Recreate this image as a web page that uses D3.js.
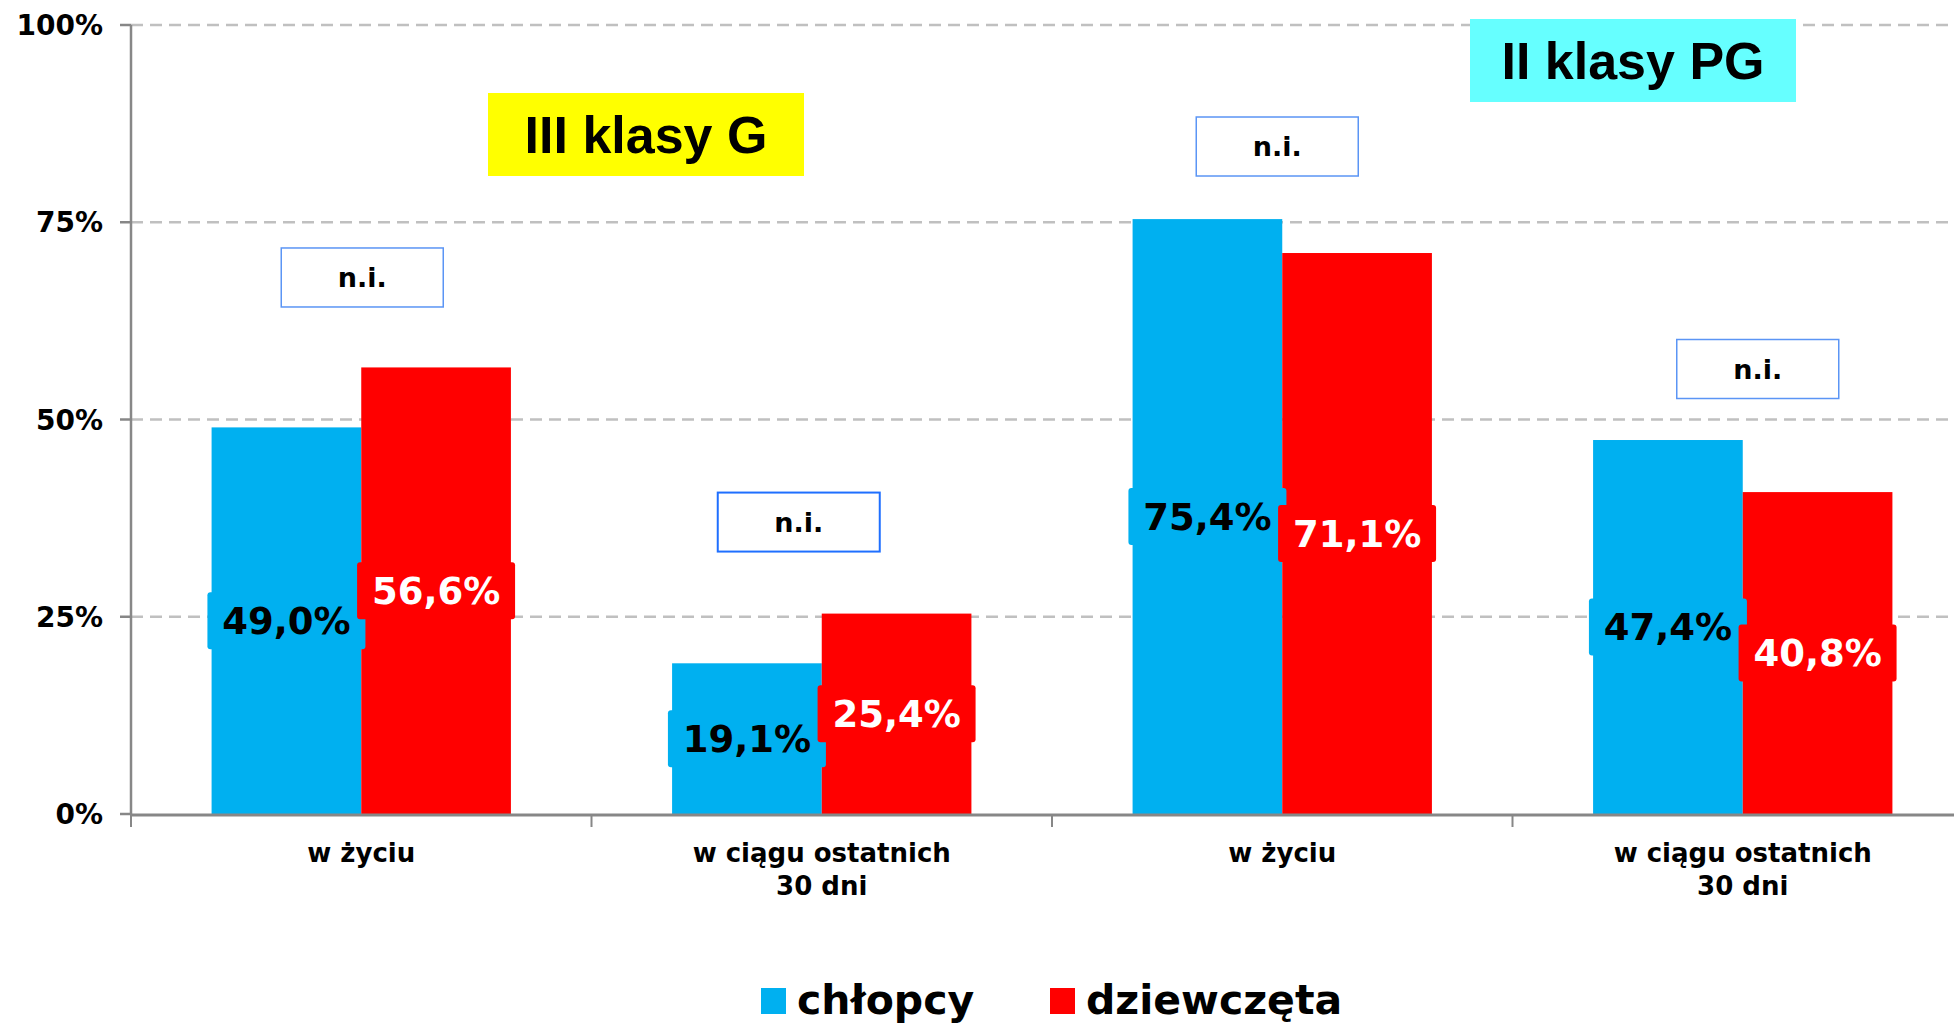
<!DOCTYPE html>
<html lang="pl">
<head>
    <meta charset="UTF-8">
    <title>Chłopcy i dziewczęta</title>
    <script src="https://d3js.org/d3.v7.min.js"></script>
    <style>
        body { margin: 0; background: #fff; }
        text { font-family: "DejaVu Sans", Verdana, sans-serif; font-weight: bold; }
    </style>
</head>
<body>
    <svg width="1954" height="1026"></svg>
    <script>
        // data
        const categories = [["w życiu"], ["w ciągu ostatnich", "30 dni"], ["w życiu"], ["w ciągu ostatnich", "30 dni"]];
        const chlopcy = [49.0, 19.1, 75.4, 47.4];
        const dziewczeta = [56.6, 25.4, 71.1, 40.8];
        const yTicks = [0, 25, 50, 75, 100];
        const niLevels = [68, 37, 84.6, 56.4];
        const seriesNames = ["chłopcy", "dziewczęta"];
        const colors = ["#00b0f0", "#ff0000"];

        const svg = d3.select("svg");
        const plotLeft = 131, plotRight = 1973, plotTop = 25, plotBottom = 814;

        const x = d3.scaleBand()
            .domain(d3.range(categories.length))
            .range([plotLeft, plotRight])
            .paddingInner(0.35)
            .paddingOuter(0.175);
        const xs = d3.scaleBand()
            .domain([0, 1])
            .range([0, x.bandwidth()]);
        const y = d3.scaleLinear().domain([0, 100]).range([plotBottom, plotTop]);

        // gridlines
        svg.selectAll(".grid")
            .data(yTicks.filter(d => d > 0))
            .enter().append("line")
            .attr("x1", plotLeft).attr("x2", 1954)
            .attr("y1", d => y(d)).attr("y2", d => y(d))
            .attr("stroke", "#c0c0c0")
            .attr("stroke-width", 2.5)
            .attr("stroke-dasharray", "12,7");

        // y axis
        svg.append("line")
            .attr("x1", plotLeft).attr("x2", plotLeft)
            .attr("y1", plotTop).attr("y2", plotBottom)
            .attr("stroke", "#878787").attr("stroke-width", 2.5);
        svg.selectAll(".ytick")
            .data(yTicks)
            .enter().append("line")
            .attr("x1", plotLeft - 11).attr("x2", plotLeft)
            .attr("y1", d => y(d)).attr("y2", d => y(d))
            .attr("stroke", "#878787").attr("stroke-width", 2.5);
        svg.selectAll(".ylab")
            .data(yTicks)
            .enter().append("text")
            .attr("x", 103)
            .attr("y", d => y(d))
            .attr("dy", "0.36em")
            .attr("text-anchor", "end")
            .attr("font-size", 28)
            .text(d => d + "%");

        // bars
        const series = [chlopcy, dziewczeta];
        series.forEach((vals, s) => {
            svg.selectAll(".bar" + s)
                .data(vals)
                .enter().append("rect")
                .attr("x", (d, i) => x(i) + xs(s))
                .attr("y", d => y(d))
                .attr("width", xs.bandwidth())
                .attr("height", d => plotBottom - y(d))
                .attr("fill", colors[s]);
        });

        // x axis
        svg.append("line")
            .attr("x1", plotLeft).attr("x2", 1954)
            .attr("y1", plotBottom + 1).attr("y2", plotBottom + 1)
            .attr("stroke", "#878787").attr("stroke-width", 3);
        const step = x.step();
        svg.selectAll(".xtick")
            .data(d3.range(categories.length + 1))
            .enter().append("line")
            .attr("x1", i => plotLeft + i * step).attr("x2", i => plotLeft + i * step)
            .attr("y1", plotBottom).attr("y2", plotBottom + 13)
            .attr("stroke", "#878787").attr("stroke-width", 2);

        const xl = svg.selectAll(".xlab")
            .data(categories)
            .enter().append("text")
            .attr("x", (d, i) => x(i) + x.bandwidth() / 2)
            .attr("y", 862)
            .attr("text-anchor", "middle")
            .attr("font-size", 26);
        xl.selectAll("tspan")
            .data(d => d)
            .enter().append("tspan")
            .attr("x", function () { return this.parentNode.getAttribute("x"); })
            .attr("dy", (d, j) => j === 0 ? 0 : 33)
            .text(d => d);

        // value labels
        const fmt = v => v.toFixed(1).replace(".", ",") + "%";
        series.forEach((vals, s) => {
            const g = svg.selectAll(".lab" + s)
                .data(vals)
                .enter().append("g")
                .attr("transform", (d, i) =>
                    `translate(${x(i) + xs(s) + xs.bandwidth() / 2},${(y(d) + plotBottom) / 2})`);
            g.append("rect")
                .attr("x", -79).attr("y", -28.5)
                .attr("width", 158).attr("height", 57)
                .attr("rx", 3)
                .attr("fill", colors[s]);
            g.append("text")
                .attr("text-anchor", "middle")
                .attr("dy", "0.36em")
                .attr("font-size", 37)
                .attr("fill", s === 0 ? "#000" : "#fff")
                .text(d => fmt(d));
        });

        // n.i. boxes
        const niShift = [1, -23, -5, 15];
        const ni = svg.selectAll(".ni")
            .data(niLevels)
            .enter().append("g")
            .attr("transform", (d, i) => `translate(${x(i) + x.bandwidth() / 2 + niShift[i]},${y(d)})`);
        ni.append("rect")
            .attr("x", -81).attr("y", -29.5)
            .attr("width", 162).attr("height", 59)
            .attr("fill", "#fff")
            .attr("stroke", (d, i) => i === 1 ? "#1f6fff" : "#5b95f5")
            .attr("stroke-width", (d, i) => i === 1 ? 2 : 1.5);
        ni.append("text")
            .attr("text-anchor", "middle")
            .attr("dy", "0.36em")
            .attr("font-size", 27)
            .text("n.i.");

        // group titles
        const titles = [
            { text: "III klasy G", fill: "#ffff00", x0: 488, x1: 804, y0: 93, y1: 176 },
            { text: "II klasy PG", fill: "#66ffff", x0: 1470, x1: 1796, y0: 19, y1: 102 }
        ];
        const tg = svg.selectAll(".title")
            .data(titles)
            .enter().append("g");
        tg.append("rect")
            .attr("x", d => d.x0).attr("y", d => d.y0)
            .attr("width", d => d.x1 - d.x0).attr("height", d => d.y1 - d.y0)
            .attr("fill", d => d.fill);
        tg.append("text")
            .attr("x", d => (d.x0 + d.x1) / 2)
            .attr("y", d => (d.y0 + d.y1) / 2)
            .attr("dy", "0.36em")
            .attr("text-anchor", "middle")
            .attr("font-size", 52)
            .style("font-family", "'Liberation Sans', Arial, sans-serif")
            .text(d => d.text);

        // legend
        const legendX = [761, 1050];
        const lg = svg.selectAll(".legend")
            .data(seriesNames)
            .enter().append("g")
            .attr("transform", (d, i) => `translate(${legendX[i]},988)`);
        lg.append("rect")
            .attr("width", 25).attr("height", 26)
            .attr("fill", (d, i) => colors[i]);
        lg.append("text")
            .attr("x", 36).attr("y", 26)
            .attr("font-size", 41)
            .text(d => d);
    </script>
</body>
</html>
